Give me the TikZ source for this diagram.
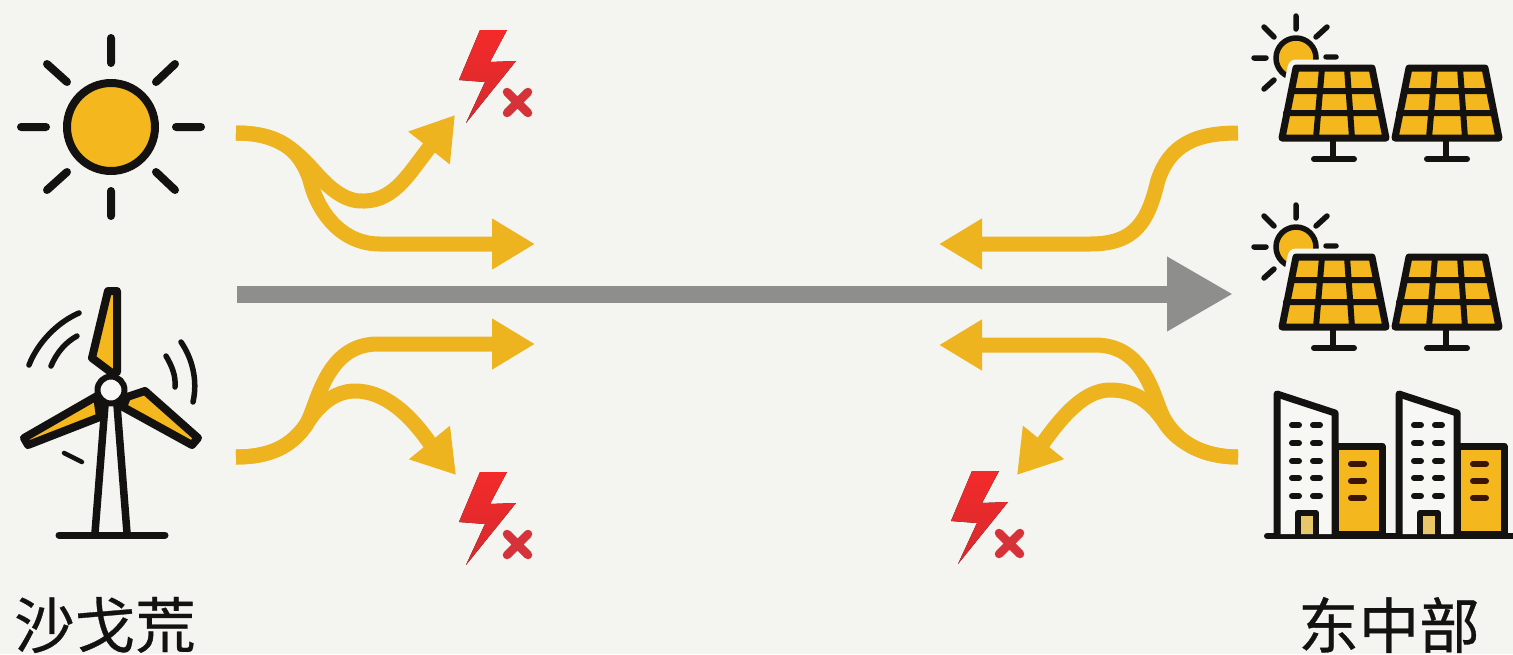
\documentclass[tikz,border=0pt]{standalone}
\usepackage{fontspec}
\newfontfamily\cjk[FakeBold=0.5]{Noto Sans CJK SC}
\usetikzlibrary{arrows.meta}
\definecolor{bgc}{HTML}{F4F5F0}
\definecolor{gold}{HTML}{F4B71E}
\definecolor{flow}{HTML}{EDB420}
\definecolor{trunk}{HTML}{8E8E8D}
\definecolor{ink}{HTML}{141210}
\definecolor{boltred}{HTML}{F42A2A}
\definecolor{boltdark}{HTML}{D62A2F}
\definecolor{crossred}{HTML}{D5323A}
\definecolor{doorgold}{HTML}{E8C768}
\definecolor{wall}{HTML}{F7F7F3}
\definecolor{winbrown}{HTML}{3A1505}
\tikzset{
  x=1pt,y=-1pt,
  inkline/.style={draw=ink,line width=#1,line cap=round,line join=round},
  inkline/.default=6pt,
  flowline/.style={draw=flow,line width=15pt},
  headflat/.style={-{Triangle[length=43pt,width=48pt,fill=flow,color=flow]}},
  headswept/.style={-{Triangle[length=42pt,width=50pt,fill=flow,color=flow]}},
  place/.style={font=\cjk\fontsize{60.5}{60.5}\selectfont,text=ink,inner sep=0pt},
  bolticon/.pic={
    \fill[top color=boltred,bottom color=boltdark]
      (480,30) -- (507,30) -- (490,62) -- (516,61) -- (466,123) -- (485,82) -- (459,80) -- cycle;
    \draw[crossred,line width=8.5pt,line cap=round] (507,92) -- (528,113) (528,92) -- (507,113);
  },
  solaricon/.pic={
    \draw[inkline=5.5pt,fill=gold] (1296,58) circle (20);
    \draw[inkline=5.5pt] (1296,16) -- (1296,29) (1264,27) -- (1274,37) (1327,27) -- (1316,37)
      (1254,58) -- (1266,58) (1326,57) -- (1336,57) (1264,89) -- (1274,80);
    \draw[draw=bgc,line width=17pt,line join=round] (1296,68) -- (1372,68) -- (1386,138) -- (1282,138) -- cycle;
    \foreach \dx in {0,113}{
      \begin{scope}[xshift=\dx pt]
        \draw[inkline=7pt,fill=gold] (1296,68) -- (1372,68) -- (1386,138) -- (1282,138) -- cycle;
        \draw[inkline=6pt] (1291,91) -- (1377,91) (1286,113) -- (1381,113)
          (1322,68) -- (1316,138) (1347,68) -- (1352,138);
        \draw[inkline=6pt] (1333,140) -- (1333,158) (1314,159) -- (1354,159);
      \end{scope}}
  },
  towericon/.pic={
    \draw[inkline=7pt,fill=wall] (1277,534) -- (1277,394) -- (1335,413) -- (1335,534);
    \draw[inkline=7pt,fill=gold] (1335,446) -- (1382,446) -- (1382,534) -- (1335,534) -- cycle;
    \draw[inkline=6pt,fill=doorgold] (1298,534) -- (1298,513) -- (1316,513) -- (1316,534);
    \foreach \wy in {425,443,461,478,496}{
      \draw[inkline=6pt] (1292,\wy) -- (1299,\wy) (1313,\wy) -- (1320,\wy);}
    \foreach \wy in {464,481,498}{
      \draw[draw=winbrown,line width=6pt,line cap=round] (1351,\wy) -- (1364,\wy);}
  }
}
\begin{document}
\begin{tikzpicture}
\useasboundingbox (0,0) rectangle (1513,654);
\fill[bgc] (0,0) rectangle (1513,654);

% desert sun
\draw[inkline=8pt,fill=gold] (111,127) circle (44);
\draw[inkline=8pt] (111,38) -- (111,63) (111,191) -- (111,216) (21,127) -- (46,127) (176,127) -- (201,127)
  (47,64) -- (67,82) (175,64) -- (156,82) (47,190) -- (67,172) (175,190) -- (156,172);

% wind turbine
\draw[inkline=7.5pt] (105,405) -- (95,533) (117,405) -- (127,533);
\draw[inkline=7pt] (59,535) -- (165,535);
\draw[inkline=8pt,fill=gold] (108,291) -- (117,291) -- (117,372) -- (112,373) -- (92,358) -- cycle;
\draw[inkline=8pt,fill=gold] (24,438) -- (97,396) -- (100,417) -- (28,445) -- cycle;
\draw[inkline=8pt,fill=gold] (198,438) -- (145,391) -- (127,397) -- (123,407) -- (192,445) -- cycle;
\draw[inkline=6pt,fill=wall] (111,390) circle (13.5);
\draw[inkline=5.5pt] (29,365) .. controls (38,342) and (58,322) .. (79,313);
\draw[inkline=5.5pt] (51,366) .. controls (57,352) and (66,342) .. (77,336);
\draw[inkline=5.5pt] (181,342) .. controls (192,358) and (198,380) .. (193,402);
\draw[inkline=5.5pt] (166,356) .. controls (172,366) and (176,376) .. (175,387);
\draw[inkline=4.5pt] (64,453) -- (82,462);

% east solar and towers
\pic at (0,0) {solaricon};
\pic at (0,189) {solaricon};
\draw[inkline=6pt] (1267,536) -- (1513,536);
\pic at (0,0) {towericon};
\pic at (122,0) {towericon};

% bolts
\pic at (0,0) {bolticon};
\pic at (0,442) {bolticon};
\pic at (492,441) {bolticon};

% named ends
\coordinate (srcSun) at (236,133);
\coordinate (srcWind) at (236,457);
\coordinate (srcSolar) at (1238,133);
\coordinate (srcCity) at (1238,457);
\coordinate (mergeTL) at (535,244);
\coordinate (mergeBL) at (535,344);
\coordinate (mergeTR) at (939,244);
\coordinate (mergeBR) at (939,345);
\coordinate (lossTL) at (455,115);
\coordinate (lossBL) at (456,475);
\coordinate (lossBR) at (1017,475);
\coordinate (trunkStart) at (237,294);
\coordinate (trunkEnd) at (1233,294);

% flows
\draw[flowline,headflat] (srcSun) .. controls (280,133) and (300,150) .. (310,180)
  .. controls (317,210) and (340,244) .. (380,244) -- (mergeTL);
\draw[flowline,headswept] (srcSun) .. controls (278,133) and (295,150) .. (315,172)
  .. controls (335,195) and (350,202) .. (365,201) .. controls (395,200) and (410,172) .. (429,148) -- (lossTL);
\draw[flowline,headflat] (srcWind) .. controls (272,457) and (292,445) .. (306,425)
  .. controls (318,405) and (325,344) .. (378,344) -- (mergeBL);
\draw[flowline,headswept] (srcWind) .. controls (272,457) and (292,445) .. (306,425)
  .. controls (318,405) and (335,391) .. (355,391) .. controls (385,391) and (410,415) .. (429,442) -- (lossBL);
\draw[flowline,headflat] (srcSolar) .. controls (1195,133) and (1170,145) .. (1158,180)
  .. controls (1148,222) and (1135,244) .. (1090,244) -- (mergeTR);
\draw[flowline,headflat] (srcCity) .. controls (1200,457) and (1175,440) .. (1163,417)
  .. controls (1153,397) and (1145,345) .. (1095,345) -- (mergeBR);
\draw[flowline,headswept] (srcCity) .. controls (1200,457) and (1175,440) .. (1163,420)
  .. controls (1150,402) and (1135,390) .. (1110,390) .. controls (1085,390) and (1063,415) .. (1043,443) -- (lossBR);

% trunk
\draw[draw=trunk,line width=17pt,-{Triangle[length=66pt,width=70pt,fill=trunk,color=trunk]}] (trunkStart) -- (trunkEnd);

% labels
\node[place] (desert) at (105,625) {沙戈荒};
\node[place] (east) at (1389,625) {东中部};
\end{tikzpicture}
\end{document}
